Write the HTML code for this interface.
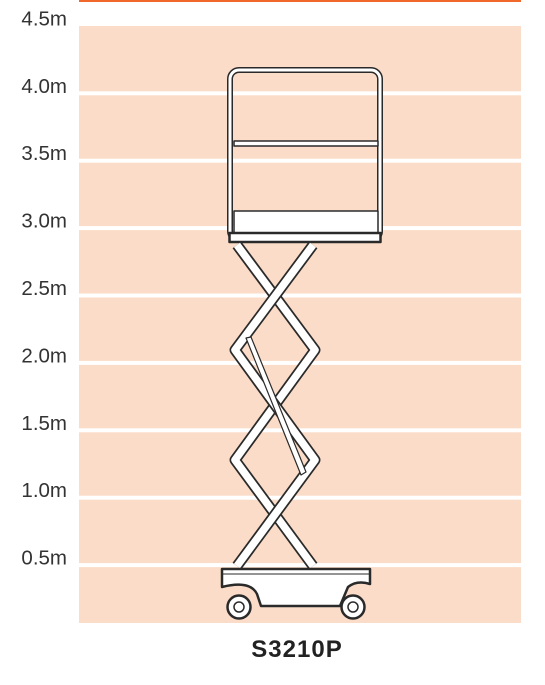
<!DOCTYPE html>
<html><head><meta charset="utf-8"><style>
body{margin:0;background:#fff;width:545px;height:680px;overflow:hidden;font-family:"Liberation Sans",sans-serif}
</style></head><body>
<svg id="c" width="545" height="680">
<rect x="79" y="0" width="442" height="2" fill="#f0682a"/>
<rect x="79" y="26" width="442" height="597" fill="#fbdcc8"/>
<g id="grid"></g>
<g id="lift" stroke-linejoin="round">
 <rect x="230" y="70" width="150" height="170" rx="9" fill="none" stroke="#2a2a2a" stroke-width="6"/>
 <rect x="230" y="70" width="150" height="170" rx="9" fill="none" stroke="#fff" stroke-width="3"/>
 <rect x="234" y="141" width="144" height="5" fill="#fff" stroke="#2a2a2a" stroke-width="1.5"/>
 <rect x="234" y="211" width="144" height="22" fill="#fff" stroke="#2a2a2a" stroke-width="1.5"/>
 <rect x="229.5" y="233" width="151" height="9" fill="#fff" stroke="#2a2a2a" stroke-width="2.5"/>
 <g fill="none">
  <polyline points="237,245 315,350 235,460 313,566" stroke="#2a2a2a" stroke-width="11"/>
  <polyline points="237,245 315,350 235,460 313,566" stroke="#fff" stroke-width="7.5"/>
  <polyline points="313,245 235,350 315,460 237,566" stroke="#2a2a2a" stroke-width="11"/>
  <polyline points="313,245 235,350 315,460 237,566" stroke="#fff" stroke-width="7.5"/>
  <polygon points="246,338 251,337 306,472 301,475" fill="#fff" stroke="#2a2a2a" stroke-width="1.2"/>
 </g>
 <path d="M222,569 H370 V584 Q357,580 348,587 L340,606 H261 L257,594 Q250,580 222,587 Z" fill="#fff" stroke="#2a2a2a" stroke-width="2.5"/>
 <line x1="222" y1="574" x2="370" y2="574" stroke="#2a2a2a" stroke-width="1"/>
 <g><circle cx="239" cy="607" r="11.5" fill="#fff" stroke="#2a2a2a" stroke-width="2.5"/><circle cx="239" cy="607" r="5" fill="#fff" stroke="#2a2a2a" stroke-width="1.5"/></g>
 <g><circle cx="353" cy="607" r="11.5" fill="#fff" stroke="#2a2a2a" stroke-width="2.5"/><circle cx="353" cy="607" r="5" fill="#fff" stroke="#2a2a2a" stroke-width="1.5"/></g>
</g>
<text x="297" y="657" text-anchor="middle" font-size="24" font-weight="bold" fill="#222" letter-spacing="1">S3210P</text>
</svg>
<script>
const tickValues=[0.5,1.0,1.5,2.0,2.5,3.0,3.5,4.0,4.5];
const tickLabels=["0.5m","1.0m","1.5m","2.0m","2.5m","3.0m","3.5m","4.0m","4.5m"];
function y(v){return 632.5-v*134.8;}
const g=document.getElementById('grid');
const ns='http://www.w3.org/2000/svg';
tickValues.forEach((v,i)=>{
 const yy=y(v);
 if(v<4.5){
  const r=document.createElementNS(ns,'rect');
  r.setAttribute('x',79);r.setAttribute('y',yy-2);r.setAttribute('width',442);r.setAttribute('height',4);r.setAttribute('fill','#fff');
  
  
  g.appendChild(r);
 }
 const t=document.createElementNS(ns,'text');
 t.setAttribute('x',67);t.setAttribute('y',yy-0.5);t.setAttribute('text-anchor','end');t.setAttribute('font-size','20.5');t.setAttribute('fill','#333');
 t.textContent=tickLabels[i];
 
 
 g.appendChild(t);
});
</script>
</body></html>
